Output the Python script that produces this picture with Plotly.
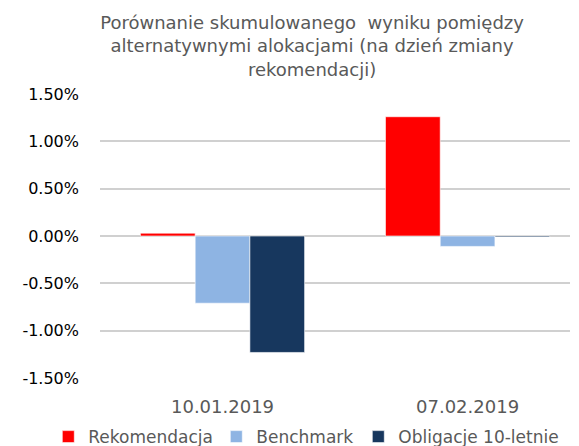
import plotly.graph_objects as go

categories = ["10.01.2019", "07.02.2019"]
rekomendacja = [0.0003, 0.0126]
benchmark = [-0.0071, -0.0011]
obligacje = [-0.0123, -0.0001]
series_names = ["Rekomendacja", "Benchmark", "Obligacje 10-letnie"]
colors = ["#FF0000", "#8EB4E3", "#17375E"]
legend_widths = [123, 97, 170]
y_ticks = [-0.015, -0.01, -0.005, 0, 0.005, 0.01, 0.015]
y_tick_labels = ["-1.50%", "-1.00%", "-0.50%", "0.00%", "0.50%", "1.00%", "1.50%"]
title_text = ("Porównanie skumulowanego  wyniku pomiędzy<br>"
              "alternatywnymi alokacjami (na dzień zmiany<br>"
              "rekomendacji)")

fig = go.Figure()
for name, vals, col, lw in zip(series_names, [rekomendacja, benchmark, obligacje], colors, legend_widths):
    fig.add_trace(go.Bar(
        x=categories, y=vals, name=name, legendwidth=lw,
        marker=dict(color=col, line=dict(color="rgba(255,255,255,0.6)", width=1)),
    ))

fig.update_layout(
    width=579, height=446,
    paper_bgcolor="white", plot_bgcolor="white",
    margin=dict(l=100, r=9, t=94, b=68, autoexpand=False),
    barmode="group", bargap=0.33, bargroupgap=0,
    font=dict(family="DejaVu Sans", size=16, color="#000000"),
    title=dict(text=title_text, x=0.539, xanchor="center", y=0.935, yanchor="top",
               font=dict(family="DejaVu Sans", size=18, color="#595959")),
    yaxis=dict(range=[-0.015, 0.015], tickvals=y_ticks, ticktext=y_tick_labels,
               showgrid=True, gridcolor="#D0D0D0", gridwidth=1.5,
               zeroline=True, zerolinecolor="#D0D0D0", zerolinewidth=1.5,
               tickfont=dict(size=16, color="#000000"), ticklabelstandoff=20,
               showline=False, automargin=False),
    xaxis=dict(range=[-0.5, 1.418], showgrid=False, showline=False, automargin=False,
               tickfont=dict(size=18, color="#595959"), ticklabelstandoff=16),
    legend=dict(orientation="h", x=-0.11, xanchor="left",
                y=-0.208, yanchor="middle",
                font=dict(size=17, color="#595959"),
                itemwidth=30, traceorder="normal"),
    showlegend=True,
)

fig.write_html("out.html", config={"displayModeBar": False},
               post_script="document.body.style.margin='0';document.body.style.overflow='hidden';")
